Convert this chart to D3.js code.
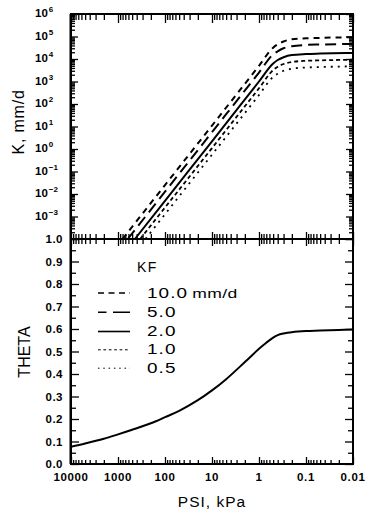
<!DOCTYPE html>
<html><head><meta charset="utf-8">
<script src="https://cdn.jsdelivr.net/npm/d3@7"></script>
<style>body{margin:0;background:#fff}svg{display:block}text{font-family:"Liberation Sans",Arial,sans-serif;fill:#000}</style>
</head><body><svg id="c" width="370" height="512"></svg>
<script>
// ---------- data ----------
const xTickValues = [10000, 1000, 100, 10, 1, 0.1, 0.01];
const xTickLabels = ["10000", "1000", "100", "10", "1", "0.1", "0.01"];
const kExponents = [6, 5, 4, 3, 2, 1, 0, -1, -2, -3];
const thetaTickValues = [0, 0.1, 0.2, 0.3, 0.4, 0.5, 0.6, 0.7, 0.8, 0.9, 1.0];
const thetaTickLabels = ["0.0", "0.1", "0.2", "0.3", "0.4", "0.5", "0.6", "0.7", "0.8", "0.9", "1.0"];

const kfLabels = ["10.0", "5.0", "2.0", "1.0", "0.5"];
const kfUnit = "mm/d";

const psiKF10 = [800, 100, 10, 1, 0.5, 0.4, 0.3, 0.2, 0.1, 0.05, 0.01];
const kKF10   = [1e-4, 0.025, 11, 5000, 32000, 45000, 60000, 75000, 83000, 87000, 93000];
const psiKF5  = [620, 100, 10, 1, 0.5, 0.4, 0.3, 0.2, 0.1, 0.05, 0.01];
const kKF5    = [1e-4, 0.0126, 5.6, 2500, 16000, 22000, 30000, 37000, 42000, 44000, 47000];
const psiKF2  = [437, 100, 10, 1, 0.5, 0.4, 0.3, 0.2, 0.1, 0.05, 0.01];
const kKF2    = [1e-4, 0.005, 2.2, 1000, 6300, 9000, 12000, 15000, 16600, 17400, 18600];
const psiKF1  = [338, 100, 10, 1, 0.5, 0.4, 0.3, 0.2, 0.1, 0.05, 0.01];
const kKF1    = [1e-4, 0.0025, 1.1, 500, 3200, 4500, 6000, 7400, 8300, 8700, 9300];
const psiKF05 = [260, 100, 10, 1, 0.5, 0.4, 0.3, 0.2, 0.1, 0.05, 0.01];
const kKF05   = [1e-4, 0.00126, 0.56, 250, 1600, 2200, 3000, 3700, 4200, 4400, 4700];

const psiTheta = [10000, 5000, 2000, 1000, 500, 200, 100, 50, 20, 10, 5, 2, 1, 0.7, 0.5, 0.4, 0.3, 0.2, 0.1, 0.05, 0.02, 0.01];
const theta    = [0.077, 0.091, 0.112, 0.1315, 0.152, 0.181, 0.208, 0.236, 0.2835, 0.327, 0.377, 0.453, 0.512, 0.539, 0.562, 0.573, 0.580, 0.586, 0.591, 0.593, 0.596, 0.598];

// ---------- layout ----------
const L = 71, R = 353, T = 14, M = 239, B = 464;
const svg = d3.select("#c");
const x = d3.scaleLog().domain([10000, 0.01]).range([L, R]);
const yK = d3.scaleLog().domain([1e-4, 1e6]).range([M, T]);
const yT = d3.scaleLinear().domain([0, 1]).range([B, M]);

const xMinor = x.ticks().filter(v => !xTickValues.some(t => Math.abs(t - v) / t < 1e-6));
const kMajor = kExponents.map(e => Math.pow(10, e)).concat([1e-4]);
const kMinor = yK.ticks(30).filter(v => !kMajor.some(t => Math.abs(t - v) / t < 1e-6));
const thetaMinor = d3.range(0.05, 1, 0.1);

function ax(gen, scale, vals, size, tx, ty) {
  const g = svg.append("g").attr("transform", `translate(${tx},${ty})`)
    .call(gen(scale).tickValues(vals).tickSize(size).tickFormat(""));
  g.select(".domain").remove();
  g.selectAll("line").attr("stroke", "#000").attr("stroke-width", 1.3);
  return g;
}
// x ticks: bottom (up), top (down), middle (both)
ax(d3.axisBottom, x, xTickValues, -7, 0, B);
ax(d3.axisBottom, x, xMinor, -4, 0, B);
ax(d3.axisTop, x, xTickValues, -9, 0, T);
ax(d3.axisTop, x, xMinor, -6, 0, T);
ax(d3.axisBottom, x, xTickValues, -7, 0, M);
ax(d3.axisBottom, x, xMinor, -5, 0, M);
ax(d3.axisBottom, x, xTickValues, 7, 0, M);
ax(d3.axisBottom, x, xMinor, 5, 0, M);
// K axis
ax(d3.axisLeft, yK, kMajor, -7, L, 0);
ax(d3.axisLeft, yK, kMinor, -4, L, 0);
ax(d3.axisRight, yK, kMajor, -7, R, 0);
ax(d3.axisRight, yK, kMinor, -4, R, 0);
// theta axis
ax(d3.axisLeft, yT, thetaTickValues, -8, L, 0);
ax(d3.axisLeft, yT, thetaMinor, -5, L, 0);
ax(d3.axisRight, yT, thetaTickValues, -8, R, 0);
ax(d3.axisRight, yT, thetaMinor, -5, R, 0);

// frames
svg.append("rect").attr("x", L).attr("y", T).attr("width", R - L).attr("height", B - T)
  .attr("fill", "none").attr("stroke", "#000").attr("stroke-width", 2);
svg.append("line").attr("x1", L - 1).attr("x2", L - 1).attr("y1", T).attr("y2", B)
  .attr("stroke", "#000").attr("stroke-width", 1);
svg.append("line").attr("x1", L).attr("x2", R).attr("y1", M).attr("y2", M)
  .attr("stroke", "#000").attr("stroke-width", 2);

// x labels
svg.append("g").selectAll("text").data(xTickValues).join("text")
  .attr("x", d => x(d)).attr("y", 481).attr("text-anchor", "middle")
  .attr("font-size", 11.5).attr("font-weight", "bold").attr("letter-spacing", 0.6)
  .text((d, i) => xTickLabels[i]);
svg.append("text").attr("x", 212).attr("y", 507).attr("text-anchor", "middle")
  .attr("font-size", 15.5).attr("letter-spacing", 1).text("PSI, kPa");

// K labels
const kl = svg.append("g").selectAll("text").data(kExponents).join("text")
  .attr("x", 35).attr("y", d => yK(Math.pow(10, d)) + 3)
  .attr("font-size", 11.5).attr("font-weight", "bold");
kl.append("tspan").text("10");
kl.append("tspan").attr("dy", -5).attr("dx", 1).attr("font-size", 8).text(d => d < 0 ? "\u2212" + (-d) : d);
svg.append("text").attr("transform", "translate(24,122) rotate(-90)").attr("text-anchor", "middle")
  .attr("font-size", 16).attr("letter-spacing", 0.8).text("K,  mm/d");

// theta labels
svg.append("g").selectAll("text").data(thetaTickValues).join("text")
  .attr("x", 63).attr("y", d => yT(d) + 4).attr("text-anchor", "end")
  .attr("font-size", 11.5).attr("font-weight", "bold").attr("letter-spacing", 0.5)
  .text((d, i) => thetaTickLabels[i]);
svg.append("text").attr("transform", "translate(30,352) rotate(-90)").attr("text-anchor", "middle")
  .attr("font-size", 16).text("THETA");

// curves
const styles = [
  { dash: "6,5", ldash: "6,4.5" },
  { dash: "11,6", ldash: "8.5,6.5,17,10" },
  { dash: null, ldash: null },
  { dash: "4,3", ldash: "2.7,2.7" },
  { dash: "2,5", ldash: "1.5,3.8" }
];
const kSeries = [[psiKF10, kKF10], [psiKF5, kKF5], [psiKF2, kKF2], [psiKF1, kKF1], [psiKF05, kKF05]];
const lineK = d3.line().x(d => x(d[0])).y(d => yK(d[1])).curve(d3.curveMonotoneX);
kSeries.forEach((s, i) => {
  const pts = s[0].map((p, j) => [p, s[1][j]]);
  svg.append("path").datum(pts).attr("d", lineK).attr("fill", "none").attr("stroke", "#000")
    .attr("stroke-width", i >= 3 ? 1.8 : 2).attr("stroke-dasharray", styles[i].dash);
});
const lineT = d3.line().x(d => x(d[0])).y(d => yT(d[1])).curve(d3.curveCatmullRom.alpha(0.5));
svg.append("path").datum(psiTheta.map((p, j) => [p, theta[j]])).attr("d", lineT)
  .attr("fill", "none").attr("stroke", "#000").attr("stroke-width", 2);

// legend
svg.append("text").attr("x", 137).attr("y", 272).attr("font-size", 14).attr("letter-spacing", 1.5).text("KF");
const rowY = [297.5, 316.8, 336, 354.3, 372.7];
kfLabels.forEach((lab, i) => {
  svg.append("line").attr("x1", 98).attr("x2", 130).attr("y1", rowY[i] - 4.5).attr("y2", rowY[i] - 4.5)
    .attr("stroke", "#000").attr("stroke-width", i >= 3 ? 1 : 1.6).attr("stroke-dasharray", styles[i].ldash);
  const t = svg.append("text").attr("transform", `translate(147,${rowY[i]}) scale(1.35,1)`)
    .attr("font-size", 14).attr("letter-spacing", 0.8).text(lab);
  if (i === 0) t.append("tspan").attr("dx", 3).attr("font-size", 13).attr("letter-spacing", 0.3).text(kfUnit);
});
</script></body></html>
